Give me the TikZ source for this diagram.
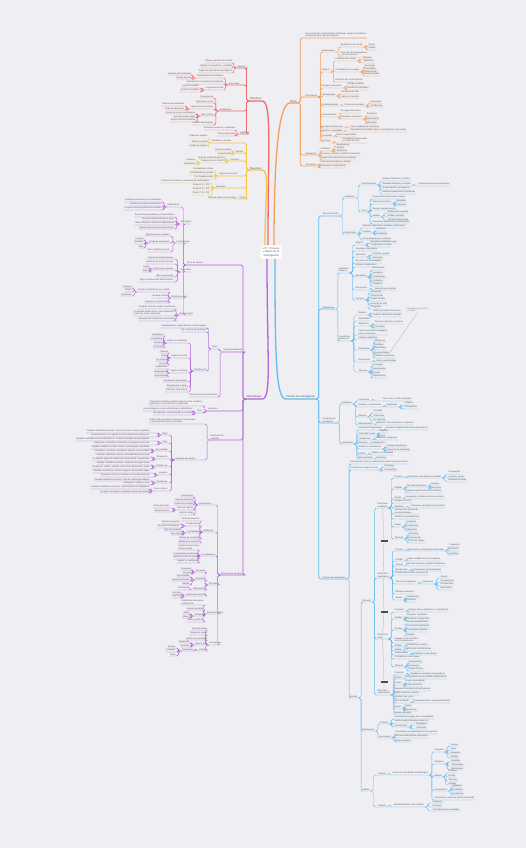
\documentclass[tikz,border=0pt]{standalone}
\usepackage{fontspec}
\setmainfont{Liberation Sans}
\usetikzlibrary{calc}

\definecolor{bgcol}{HTML}{EEEEF3}
\definecolor{redbr}{HTML}{F06A6A}
\definecolor{orgbr}{HTML}{F5A05A}
\definecolor{yelbr}{HTML}{F4C444}
\definecolor{purbr}{HTML}{B463D8}
\definecolor{blubr}{HTML}{62BDF2}
\definecolor{txt}{HTML}{5A5A5A}

% child to the right / to the left of its parent, underlined
\newcommand{\kidR}[5][]{%
  \node[kid,anchor=south west] (#2) at (#4) {#5};
  \draw[edge,#1] (#3.south east) -- ++(3,0) |- (#2.south west) -- (#2.south east);}
\newcommand{\kidL}[5][]{%
  \node[kid,anchor=south east] (#2) at (#4) {#5};
  \draw[edge,#1] (#3.south west) -- ++(-3,0) |- (#2.south east) -- (#2.south west);}
% one study variable with its two definitions
\newcommand{\varrow}[5]{%
  \kidL{#1}{p42}{168,#2}{#3}
  \kidL{#1a}{#1}{150,#2-2}{#4}
  \kidL{#1b}{#1}{150,#2+2}{#5}}

\begin{document}
\begin{tikzpicture}[
  x=1pt, y=-1pt,
  kid/.style     = {font=\fontsize{2.2}{2.7}\selectfont, text=txt,
                    inner xsep=0.4pt, inner ysep=0.5pt, align=left},
  mainlab/.style = {kid, font=\fontsize{2.7}{3.2}\selectfont},
  edge/.style    = {draw=br, line width=0.45pt, rounded corners=1.8pt},
  lvl/.style     = {line width=0.8pt},
  trunk/.style   = {draw=br, line width=1.3pt},
  hub/.style     = {fill=white, rounded corners=2pt, text=txt, align=center,
                    font=\fontsize{2.7}{3.4}\selectfont, inner sep=2pt},
  rel/.style     = {draw=black!30, line width=0.3pt},
  tagbox/.style  = {fill=black!70, minimum width=7pt, minimum height=2.6pt, inner sep=0pt},
  note/.style    = {kid, text=black!45},
]
\fill[bgcol] (0,0) rectangle (526,848);
\useasboundingbox (0,0) rectangle (526,848);

\node[hub] (uti) at (271,252) {U.T.I. Proceso\\y diseño de la\\investigación};

% ---------------- Objetivos (red)
\colorlet{br}{redbr}
\node[mainlab,anchor=south east] (obj) at (262,101) {Objetivos};
\draw[trunk] ([xshift=-3pt]uti.north) .. controls +(0,-100) and +(10,0) .. (obj.south east) -- (obj.south west);

\kidL[lvl]{r1}{obj}{246,68}{Alcance}
\foreach \y/\t in {63/Objetivo general del estudio,68/Objetivos específicos y medibles,73/Preguntas guía de la investigación}
  {\kidL{r1-\y}{r1}{233,\y}{\t}}
\kidL[lvl]{r2}{obj}{240,85}{Enunciado}
\kidL{r21}{r2}{224,78}{Antecedentes del problema}
\foreach \y/\t in {75/Revisión de la literatura,79/Estado del arte}{\kidL{r21-\y}{r21}{192,\y}{\t}}
\kidL{r22}{r2}{224,84}{Delimitación conceptual del problema}
\kidL{r23}{r2}{224,90}{Pregunta principal}
\foreach \y/\t in {88/¿Qué se estudia?,92/¿Cómo se estudia?}{\kidL{r23-\y}{r23}{200,\y}{\t}}
\kidL[lvl]{r3}{obj}{232,111}{Justificación}
\foreach \y/\t in {98/Conveniencia,103/Relevancia social,109/Implicaciones prácticas,116/Valor teórico,125/Utilidad metodológica}
  {\kidL{r3-\y}{r3}{214,\y}{\t}}
\foreach \y/\t in {106/Solución de problemas,110/Toma de decisiones}{\kidL{r3b-\y}{r3-109}{185,\y}{\t}}
\foreach \y/\t in {114/Llenar vacíos de conocimiento,118/Generar nuevas ideas,122/Apoyar teorías existentes}{\kidL{r3c-\y}{r3-116}{196,\y}{\t}}
\kidL[lvl]{r4}{obj}{250,134}{Viabilidad}
\foreach \y/\t in {130/Recursos humanos y materiales,136/Tiempo disponible}{\kidL{r4-\y}{r4}{236,\y}{\t}}

% ---------------- Muestreo (yellow)
\colorlet{br}{yelbr}
\node[mainlab,anchor=south east] (mue) at (262,170) {Muestreo};
\draw[trunk] ([xshift=-6pt]uti.north) .. controls +(0,-50) and +(8,0) .. (mue.south east) -- (mue.south west);

\kidL[lvl]{y1}{mue}{232,143}{Población y muestra}
\foreach \y/\t in {138/Población objetivo,143/Marco muestral,147/Unidad de análisis}{\kidL{y1-\y}{y1}{208,\y}{\t}}
\kidL[lvl]{y2}{mue}{244,153}{Tamaño}
\foreach \y/\t in {151/Cálculo muestral,155/Fórmula finita}{\kidL{y2-\y}{y2}{232,\y}{\t}}
\kidL[lvl]{y3}{mue}{240,161}{Precisión}
\foreach \y/\t in {159/Nivel de confianza del 95 \%,163/Margen de error del 5 \%}{\kidL{y3-\y}{y3}{226,\y}{\t}}
\foreach \y/\t in {161/Aleatoria,165/Sistemática}{\kidL{y3b-\y}{y3-163}{196,\y}{\t}}
\kidL[lvl]{y4}{mue}{238,176}{Tipos de muestreo}
\foreach \y/\t in {171/Probabilístico simple,175/Estratificado por grupos,179/Por conglomerados}{\kidL{y4-\y}{y4}{214,\y}{\t}}
\kidL[lvl]{y5}{mue}{226,188}{Selección}
\foreach \y/\t in {183/Criterios de inclusión y exclusión de participantes,187/Grupo A (n = 25),191/Grupo B (n = 25),195/Grupo C (n = 25)}
  {\kidL{y5-\y}{y5}{210,\y}{\t}}
\kidL[lvl]{y6}{mue}{246,199}{Datos}
\kidL{y6-1}{y6}{236,199}{Tabla de datos recolectados}

% ---------------- Ética (orange)
\colorlet{br}{orgbr}
\node[mainlab,anchor=south west] (eti) at (290,103) {Ética};
\draw[trunk] ([xshift=3pt]uti.north) .. controls +(0,-100) and +(-10,0) .. (eti.south west) -- (eti.south east);

\kidR[lvl]{o1}{eti}{305,38}{Documento de consentimiento informado, riesgos y beneficios\\del estudio para cada participante}
\kidR[lvl]{o2}{eti}{305,97}{Información}
\kidR{o21}{o2}{321,52}{Antecedentes}
\kidR{o21a}{o21}{340,47}{Aprobación del comité}
\foreach \y/\t in {46/Fecha,50/Código}{\kidR{o21a-\y}{o21a}{368,\y}{\t}}
\kidR{o21b}{o21}{340,57}{Datos de los investigadores\\y de la institución}
\kidR{o22}{o2}{321,72}{Objetivo}
\kidR{o22a}{o22}{335,61}{Propósito del estudio}
\foreach \y/\t in {59/General,63/Específico}{\kidR{o22a-\y}{o22a}{363,\y}{\t}}
\kidR{o22b}{o22}{335,72}{Procedimientos a seguir}
\foreach \y/\t in {67/Encuestas,70/Entrevistas,73/Observación,76/Grupos focales}{\kidR{o22b-\y}{o22b}{364,\y}{\t}}
\kidR{o22c}{o22}{335,82}{Duración de la participación}
\kidR{o23}{o2}{321,88}{Riesgos y beneficios}
\foreach \y/\t in {86/Riesgos posibles,90/Beneficios esperados}{\kidR{o23-\y}{o23}{347,\y}{\t}}
\kidR{o24}{o2}{321,96}{Voluntariedad}
\foreach \y/\t in {94/Participación libre,98/Retiro sin sanción}{\kidR{o24-\y}{o24}{341,\y}{\t}}
\kidR{o25}{o2}{321,106}{Confidencialidad}
\kidR{o25a}{o25}{344,106}{Protección de datos}
\foreach \y/\t in {103/Anonimato,107/Codificación}{\kidR{o25a-\y}{o25a}{370,\y}{\t}}
\kidR{o26}{o2}{321,117}{Compensación}
\kidR{o26a}{o26}{340,113}{Sin pago económico}
\kidR{o26b}{o26}{340,119}{Reembolso de gastos}
\foreach \y/\t in {116/Transporte,120/Alimentación,124/Materiales}{\kidR{o26b-\y}{o26b}{366,\y}{\t}}
\kidR{o27}{o2}{321,128}{Uso de la información}
\kidR{o27a}{o27}{350,128}{Fines académicos exclusivos}
\kidR{o28}{o2}{321,132}{Derecho a resultados}
\kidR{o28a}{o28}{350,132}{Resultados disponibles para los participantes del estudio}
\kidR{o29}{o2}{321,137}{Privacidad}
\kidR{o29a}{o29}{336,137}{Datos resguardados}
\kidR{o210}{o2}{321,142}{Contacto}
\kidR{o210a}{o210}{342,143}{Investigador responsable\\y comité de ética}
\kidR[lvl]{o3}{eti}{305,155}{Evaluación}
\kidR{o31}{o3}{320,151}{Principios}
\foreach \y/\t in {146/Beneficencia,149/Justicia,152/Autonomía}{\kidR{o31-\y}{o31}{336,\y}{\t}}
\kidR{o32}{o3}{320,156}{Revisión por pares y comité institucional}
\kidR{o33}{o3}{320,160}{Seguimiento del protocolo aprobado}
\kidR[lvl]{o4}{eti}{305,166}{Conclusión}
\kidR{o41}{o4}{320,164}{Firma del participante y testigo}
\kidR{o42}{o4}{320,168}{Copia para el participante}

% ---------------- Metodología (purple)
\colorlet{br}{purbr}
\node[mainlab,anchor=south east] (met) at (262,399) {Metodología};
\draw[trunk] ([xshift=-4pt]uti.south) .. controls +(0,100) and +(10,0) .. (met.south east) -- (met.south west);

\kidL[lvl]{p1}{met}{204,265}{Tipos de alcance}
\kidL{p11}{p1}{180,207}{Exploratorio}
\foreach \y/\t in {202/Investiga problemas poco estudiados,206/Identifica conceptos promisorios,210/Prepara el terreno para otros estudios}
  {\kidL{p11-\y}{p11}{162,\y}{\t}}
\kidL{p12}{p1}{192,224}{Descriptivo}
\foreach \y/\t in {217/Especifica propiedades y características,221/Describe tendencias de un grupo,225/Mide conceptos de forma independiente,229/Muestra dimensiones del fenómeno}
  {\kidL{p12-\y}{p12}{175,\y}{\t}}
\kidL{p13}{p1}{190,243}{Correlacional}
\foreach \y/\t in {236/Relación entre variables,243/Grado de asociación,252/Valor predictivo parcial}{\kidL{p13-\y}{p13}{170,\y}{\t}}
\foreach \y/\t in {240/Positiva,244/Negativa,248/Nula}{\kidL{p13b-\y}{p13-243}{144,\y}{\t}}
\kidL{p14}{p1}{192,272}{Explicativo}
\foreach \y/\t in {259/Causas de los fenómenos,264/Condiciones en que ocurren,270/Relaciones causales,277/Más estructurado,282/Mayor comprensión del fenómeno}
  {\kidL{p14-\y}{p14}{174,\y}{\t}}
\foreach \y/\t in {268/Causa,272/Efecto}{\kidL{p14b-\y}{p14-270}{150,\y}{\t}}
\kidL{p15}{p1}{188,298}{Estudio de caso}
\foreach \y/\t in {292/Análisis profundo de una unidad,298/Enfoque holístico,303/Intrínseco o instrumental}{\kidL{p15-\y}{p15}{170,\y}{\t}}
\foreach \y/\t in {288/Persona,292/Grupo,296/Institución}{\kidL{p15b-\y}{p15-292}{132,\y}{\t}}
\kidL{p16}{p1}{194,315}{Alcance mixto}
\foreach \y/\t in {309/Combina alcances según el problema,316/Un estudio puede iniciar como exploratorio\\y terminar como explicativo,321/Depende del estado del conocimiento}
  {\kidL{p16-\y}{p16}{176,\y}{\t}}

\kidL[lvl]{p2}{met}{243,352}{Operacionalización}
\kidL{p21}{p2}{218,349}{Tipos}
\kidL{p21-1}{p21}{207,328}{Independientes, dependientes e intervinientes}
\kidL{p21-2}{p21}{207,332}{De control y de confusión}
\kidL{p213}{p21}{207,371}{Clasificación}
\kidL{p213-a}{p213}{188,343}{Según su naturaleza}
\foreach \y/\t in {336/Cualitativas,340/Cuantitativas,344/Discretas,348/Continuas}{\kidL{p213a-\y}{p213-a}{164,\y}{\t}}
\kidL{p213-b}{p213}{188,358}{Según su escala}
\foreach \y/\t in {353/Nominal,357/Ordinal,361/De intervalo,365/De razón}{\kidL{p213b-\y}{p213-b}{169,\y}{\t}}
\kidL{p213-c}{p213}{188,373}{Según su función}
\foreach \y/\t in {369/Explicativas,373/Moderadoras,377/Intervinientes}{\kidL{p213c-\y}{p213-c}{168,\y}{\t}}
\foreach \y/\t in {382/Indicadores observables,387/Dimensiones e ítems,392/Definición operacional}{\kidL{p213-\y}{p213}{188,\y}{\t}}
\kidL{p22}{p2}{218,397}{Matriz de operacionalización}

\kidL[lvl]{p3}{met}{218,411}{Hipótesis}
\kidL{p31}{p3}{203,406}{Proposición tentativa sobre la relación entre variables,\\apoyada en conocimientos organizados}
\kidL{p32}{p3}{203,413}{Tipos}
\kidL{p32-1}{p32}{193,411}{De investigación, nulas, alternativas y estadísticas}
\kidL{p32-2}{p32}{193,415}{Descriptivas, correlacionales y causales}

\kidL[lvl]{p4}{met}{224,440}{Definición de\\variables}
\kidL{p41}{p4}{196,424}{Definir cada variable en términos conceptuales\\y operacionales para su medición}
\kidL{p42}{p4}{196,460}{Variables del estudio}
\varrow{v1}{435}{Edad}{Variable cuantitativa discreta: tiempo de vida en años cumplidos}{Escala de razón; se registra en la encuesta inicial (anexo 1)}
\varrow{v2}{443}{Sexo}{Variable cualitativa nominal dicotómica: condición biológica del participante}{Categorías: masculino y femenino; se registra en la ficha}
\varrow{v3}{451}{Escolaridad}{Variable cualitativa ordinal: último nivel educativo aprobado}{Categorías: primaria, secundaria, técnica y universitaria}
\varrow{v4}{459}{Ocupación}{Variable cualitativa nominal: actividad laboral principal}{Se registra según la clasificación nacional de ocupaciones}
\varrow{v5}{467}{Estado civil}{Variable cualitativa nominal: situación conyugal actual}{Categorías: soltero, casado, unión libre, divorciado y viudo}
\varrow{v6}{475}{Ingresos}{Variable cuantitativa continua: ingreso mensual del hogar}{Escala de razón; se expresa en moneda nacional}
\varrow{v7}{483}{Residencia}{Variable cualitativa nominal: zona de residencia habitual}{Categorías: urbana y rural}
\varrow{v8}{491}{Peso corporal}{Variable cuantitativa continua: masa corporal en kilogramos}{Se mide con balanza calibrada al inicio del estudio}

\kidL[lvl]{p5}{met}{243,575}{Recolección de datos}
\kidL{p51}{p5}{212,505}{Instrumentos}
\foreach \y/\t in {497/Cuestionario,501/Guía de entrevista,505/Escala de actitudes,510/Ficha de registro,515/Lista de cotejo}{\kidL{p51-\y}{p51}{194,\y}{\t}}
\foreach \y/\t in {508/Datos generales,512/Observaciones}{\kidL{p51b-\y}{p51-510}{170,\y}{\t}}
\kidL{p52}{p5}{214,532}{Validación}
\foreach \y/\t in {521/Juicio de expertos,526/Prueba piloto,533/Confiabilidad,539/Validez de contenido,543/Validez de constructo}{\kidL{p52-\y}{p52}{200,\y}{\t}}
\foreach \y/\t in {524/Muestra pequeña,528/Ajustes al instrumento}{\kidL{p52b-\y}{p52-526}{180,\y}{\t}}
\foreach \y/\t in {531/Alfa de Cronbach,535/Test-retest}{\kidL{p52c-\y}{p52-533}{182,\y}{\t}}
\kidL{p53}{p5}{216,556}{Procedimiento}
\foreach \y/\t in {550/Solicitud de permisos\\institucionales,555/Consentimiento informado,559/Aplicación del instrumento,563/Registro y codificación}
  {\kidL{p53-\y}{p53}{200,\y}{\t}}
\kidL{p54}{p5}{218,585}{Técnicas}
\foreach \y/\t in {572/Encuesta,580/Entrevista,590/Observación,596/Análisis documental}{\kidL{p54-\y}{p54}{206,\y}{\t}}
\foreach \y/\t in {570/Presencial,574/En línea}{\kidL{p54a-\y}{p54-572}{192,\y}{\t}}
\foreach \y/\t in {577/Estructurada,581/Semiestructurada,585/Abierta}{\kidL{p54b-\y}{p54-580}{190,\y}{\t}}
\kidL{p54c}{p54-590}{190,590}{Participante}
\foreach \y/\t in {594/Archivos,598/Registros}{\kidL{p54d-\y}{p54-596}{182,\y}{\t}}
\kidL{p55}{p5}{224,614}{Análisis de datos}
\foreach \y/\t in {605/Estadística descriptiva\\e inferencial,610/Análisis temático,616/Software,622/Tablas y gráficos}{\kidL{p55-\y}{p55}{204,\y}{\t}}
\foreach \y/\t in {614/SPSS,618/Atlas.ti}{\kidL{p55b-\y}{p55-616}{190,\y}{\t}}
\kidL{p56}{p5}{222,645}{Cronograma}
\foreach \y/\t in {630/Fase de diseño,635/Trabajo de campo,640/Análisis de resultados,645/Informe final,651/Difusión}{\kidL{p56-\y}{p56}{208,\y}{\t}}
\foreach \y/\t in {643/Redacción,647/Revisión}{\kidL{p56b-\y}{p56-645}{190,\y}{\t}}
\kidL{p56c}{p56-651}{194,651}{Publicación}
\foreach \y/\t in {648/Artículo,652/Congreso,656/Tesis}{\kidL{p56d-\y}{p56c}{176,\y}{\t}}

% ---------------- Diseño de investigación (blue)
\colorlet{br}{blubr}
\node[mainlab,anchor=south west] (dis) at (286,399) {Diseño de investigación};
\draw[trunk] ([xshift=4pt]uti.south) .. controls +(0,100) and +(-10,0) .. (dis.south west) -- (dis.south east);

\kidR[lvl]{b1}{dis}{322,216}{Tipos de estudio}
\kidR{b11}{b1}{344,198}{Cualitativo}
\kidR{b111}{b11}{361,185}{Características}
\foreach \y/\t in {181/Enfoque inductivo y holístico,186/Realidad subjetiva y múltiple,190/Diseño flexible y emergente,194/Muestras pequeñas no aleatorias}
  {\kidR{b111-\y}{b111}{382,\y}{\t}}
\kidR{b111x}{b111-186}{418,186}{Perspectiva de los participantes}
\kidR{b112}{b11}{361,212}{Usos}
\foreach \y/\t in {199/Comprender fenómenos sociales,204/Explorar contextos,210/Generar nuevas teorías,217/Análisis,224/Interpretar significados y experiencias}
  {\kidR{b112-\y}{b112}{372,\y}{\t}}
\foreach \y/\t in {202/Naturales,206/Culturales}{\kidR{b112a-\y}{b112-204}{396,\y}{\t}}
\foreach \y/\t in {213/Análisis de contenido,217/Análisis narrativo,221/Teoría fundamentada}{\kidR{b112b-\y}{b112-217}{387,\y}{\t}}
\kidR{b12}{b1}{344,234}{Cuantitativo}
\foreach \y/\t in {228/Medición objetiva de variables y fenómenos,233/Pruebas,240/Generalización de resultados}{\kidR{b12-\y}{b12}{362,\y}{\t}}
\foreach \y/\t in {231/Hipótesis,235/Estadística}{\kidR{b12a-\y}{b12-233}{376,\y}{\t}}

\kidR[lvl]{b2}{dis}{322,309}{Referencias}
\kidR{b21}{b2}{338,273}{Cualitativo\\(clásico)}
\foreach \y/\t in {245/Objetivo,251/Paradigma naturalista,257/Aplicación,263/Rol activo del investigador,267/Análisis interpretativo,277/Resultados,290/Descripción,300/Técnicas}
  {\kidR{b21-\y}{b21}{355,\y}{\t}}
\foreach \y/\t in {243/Describir la realidad social,247/Comprender al sujeto}{\kidR{b21a-\y}{b21-245}{370,\y}{\t}}
\foreach \y/\t in {255/Ciencias sociales,259/Educación}{\kidR{b21b-\y}{b21-257}{372,\y}{\t}}
\foreach \y/\t in {270/Descriptivos,274/Narrativos,278/Contextuales,282/Profundos,286/Subjetivos}{\kidR{b21c-\y}{b21-277}{372,\y}{\t}}
\kidR{b21d}{b21-290}{374,290}{Datos ricos en detalle}
\foreach \y/\t in {293/Entrevistas,297/Observación,301/Grupos focales,305/Historias de vida,309/Etnografía}{\kidR{b21e-\y}{b21-300}{370,\y}{\t}}
\kidR{b22}{b2}{338,341}{Cuantitativo\\(moderno)}
\foreach \y/\t in {315/Objetivo,321/Objetividad,326/Aplicación,335/Papel neutral del investigador\\ante el fenómeno,339/Análisis estadístico,350/Resultados,362/Descripción,372/Técnicas}
  {\kidR{b22-\y}{b22}{358,\y}{\t}}
\foreach \y/\t in {313/Medir y predecir fenómenos,317/Explicar relaciones causales}{\kidR{b22a-\y}{b22-315}{373,\y}{\t}}
\foreach \y/\t in {324/Ciencias naturales y exactas,328/Economía}{\kidR{b22b-\y}{b22-326}{374,\y}{\t}}
\foreach \y/\t in {342/Numéricos,346/Medibles,350/Replicables,354/Generalizables,358/Objetivos y precisos}{\kidR{b22c-\y}{b22-350}{374,\y}{\t}}
\kidR{b22d}{b22-362}{376,362}{Datos cuantificables}
\foreach \y/\t in {366/Encuestas,370/Cuestionarios,374/Escalas,378/Experimentos}{\kidR{b22e-\y}{b22-372}{372,\y}{\t}}
\node[note,anchor=south west] (nota) at (406,313) {Paradigma positivista\\y empírico};
\draw[rel] (nota.south) -- (b22c-354.east);

\kidR[lvl]{b3}{dis}{322,423}{Comparación\\de diseños}
\kidR{b31}{b3}{341,404}{Cualitativo}
\foreach \y/\t in {401/Fenómeno,407/Análisis y conclusiones,417/Muestra,425/Razonamiento}{\kidR{b31-\y}{b31}{358,\y}{\t}}
\kidR{b31a}{b31-401}{382,401}{Visto como un todo integrado}
\kidR{b31b}{b31-407}{386,407}{Significado}
\foreach \y/\t in {405/Subjetivo,409/Interpretativo}{\kidR{b31c-\y}{b31b}{404,\y}{\t}}
\foreach \y/\t in {413/Pequeña,417/Intencional,421/No aleatoria}{\kidR{b31d-\y}{b31-417}{373,\y}{\t}}
\kidR{b31e}{b31-425}{376,425}{Inductivo: de lo particular a lo general}
\kidR{b32}{b3}{341,444}{Cuantitativo}
\foreach \y/\t in {430/Fenómeno fragmentado,435/Visión del mundo,440/Clasificación,444/Muestreo,449/Análisis y conclusiones,455/Criterio,459/Razonamiento}
  {\kidR{b32-\y}{b32}{358,\y}{\t}}
\kidR{b32a}{b32-430}{385,430}{Variables medibles de forma independiente}
\foreach \y/\t in {433/Objetiva,437/Única}{\kidR{b32b-\y}{b32-435}{379,\y}{\t}}
\kidR{b32c}{b32-440}{375,440}{Variables y categorías}
\kidR{b32d}{b32-444}{371,444}{Probabilístico}
\foreach \y/\t in {447/Pruebas estadísticas,451/Inferencia de resultados}{\kidR{b32e-\y}{b32-449}{386,\y}{\t}}
\kidR{b32f}{b32-455}{371,455}{Validez y confiabilidad}
\kidR{b32g}{b32-459}{376,459}{Deductivo}

\kidR[lvl]{b4}{dis}{322,579}{Fuentes de información}
\kidR{b41}{b4}{350,464}{Documentos, datos y publicaciones para la revisión teórica}
\kidR{b42}{b4}{350,470}{Clasificación según su nivel}
\foreach \y/\t in {467/Primarias,471/Secundarias}{\kidR{b42-\y}{b42}{384,\y}{\t}}
\kidR{b43}{b4}{350,698}{Diseño}
\kidR{b431}{b43}{362,602}{Métodos}

\kidR{s1}{b431}{377,508}{Estructura\\cualitativa}
\foreach \y/\t in {478/Proceso,489/Utilidad,499/Diseño,503/Enfoque holístico,508/Variables,514/Técnicas de recolección\\no estructuradas,519/Muestra no probabilística,527/Etapas,539/Técnicas}
  {\kidR{s1-\y}{s1}{394,\y}{\t}}
\kidR{s1a}{s1-478}{408,478}{Identificar el fenómeno a estudiar}
\foreach \y/\t in {474/Perspectiva,478/Contexto social,482/Experiencia vivida}{\kidR{s1b-\y}{s1a}{448,\y}{\t}}
\kidR{s1c}{s1-489}{406,487}{Describir fenómenos}
\foreach \y/\t in {485/Sociales,489/Educativos}{\kidR{s1d-\y}{s1c}{430,\y}{\t}}
\kidR{s1e}{s1-489}{406,493}{Explorar significados de los actores}
\kidR{s1f}{s1-499}{405,499}{Emergente y flexible durante el estudio}
\kidR{s1g}{s1-508}{410,508}{Categorías emergentes del análisis}
\foreach \y/\t in {523/Inmersión,527/Codificación,531/Saturación}{\kidR{s1h-\y}{s1-527}{406,\y}{\t}}
\foreach \y/\t in {535/Entrevista,539/Observación,543/Diario de campo}{\kidR{s1i-\y}{s1-539}{408,\y}{\t}}

\kidR{s2}{b431}{377,578}{Estructura\\cuantitativa}
\foreach \y/\t in {551/Proceso,561/Utilidad,566/Alcance,571/Recolección,575/Diseño estructurado y secuencial,584/Tipo de investigación,594/Enfoque deductivo,600/Etapas}
  {\kidR{s2-\y}{s2}{395,\y}{\t}}
\kidR{s2a}{s2-551}{408,551}{Desarrollar un fenómeno observable}
\foreach \y/\t in {547/Preguntas,551/Hipótesis,555/Variables}{\kidR{s2b-\y}{s2a}{449,\y}{\t}}
\kidR{s2c}{s2-561}{407,561}{Medir variables de forma objetiva}
\kidR{s2d}{s2-566}{406,566}{Describir, explicar y predecir fenómenos}
\kidR{s2e}{s2-571}{412,571}{Instrumentos estandarizados}
\kidR{s2f}{s2-584}{422,584}{Explicativa}
\foreach \y/\t in {578/Causal,582/Correlacional,586/Comparativa,590/Descriptiva}{\kidR{s2g-\y}{s2f}{440,\y}{\t}}
\foreach \y/\t in {598/Planificación,602/Ejecución}{\kidR{s2h-\y}{s2-600}{406,\y}{\t}}

\kidR{s3}{b431}{377,639}{Estructura\\mixta}
\foreach \y/\t in {612/Propósito,619/Utilidad,630/Diseños,643/Integración de los datos\\en la interpretación,647/Análisis,651/Validez,655/Temporalidad,659/Prioridad de los enfoques,667/Técnicas}
  {\kidR{s3-\y}{s3}{394,\y}{\t}}
\kidR{s3a}{s3-612}{408,612}{Integrar datos cualitativos y cuantitativos}
\foreach \y/\t in {617/Triangular resultados,621/Ampliar la comprensión}{\kidR{s3b-\y}{s3-619}{406,\y}{\t}}
\foreach \y/\t in {624/Secuencial explicativo,628/Secuencial exploratorio,632/Convergente paralelo,636/Anidado}{\kidR{s3c-\y}{s3-630}{406,\y}{\t}}
\kidR{s3d}{s3-647}{406,647}{Estadístico y temático}
\kidR{s3e}{s3-651}{404,651}{Legitimación de inferencias}
\kidR{s3f}{s3-655}{412,655}{Simultánea o secuencial}
\foreach \y/\t in {663/Cuestionarios,667/Entrevistas,671/Grupos focales}{\kidR{s3g-\y}{s3-667}{408,\y}{\t}}

\kidR{s4}{b431}{377,695}{Estructura\\experimental}
\foreach \y/\t in {675/Propósito,679/Control,685/Grupos,691/Asignación aleatoria de participantes,695/Validez interna y externa,699/Medición pre y post,703/Tipo de diseño,709/Etapas,714/Análisis de datos}
  {\kidR{s4-\y}{s4}{394,\y}{\t}}
\kidR{s4a}{s4-675}{410,675}{Establecer relaciones causa-efecto}
\kidR{s4b}{s4-679}{405,679}{Manipulación de la variable independiente}
\foreach \y/\t in {683/Grupo experimental,687/Grupo de control}{\kidR{s4c-\y}{s4-685}{405,\y}{\t}}
\kidR{s4d}{s4-703}{413,703}{Preexperimental o cuasiexperimental}
\foreach \y/\t in {707/Pretest,711/Intervención}{\kidR{s4e-\y}{s4-709}{404,\y}{\t}}

% relationship between the four structures
\node[tagbox] (tg1) at (384,541) {};
\node[tagbox] (tg2) at (384,612) {};
\node[tagbox] (tg3) at (384,682) {};
\draw[rel] (s1.south) -- (tg1) -- (s2.north);
\draw[rel] (s2.south) -- (tg2) -- (s3.north);
\draw[rel] (s3.south) -- (tg3) -- (s4.north);

\kidR{b432}{b43}{362,731}{Elaboración}
\kidR{b432a}{b432}{379,724}{Primaria}
\foreach \y/\t in {719/Información recogida por el investigador,723/Fuente original de datos empíricos,727/Instrumentos}{\kidR{b432a-\y}{b432a}{394,\y}{\t}}
\foreach \y/\t in {725/Encuesta,729/Entrevista}{\kidR{b432c-\y}{b432a-727}{416,\y}{\t}}
\kidR{b432b}{b432}{379,738}{Secundaria}
\foreach \y/\t in {734/Información ya publicada por otros autores,738/Revisión bibliográfica sistemática,742/Bases de datos}{\kidR{b432b-\y}{b432b}{395,\y}{\t}}

\kidR{b433}{b43}{362,791}{Validez}
\kidR{b433a}{b433}{378,775}{Interna}
\kidR{b433a1}{b433a}{392,775}{Coherencia del diseño metodológico}
\foreach \y/\t in {752/Pregunta,764/Objetivos,777/Método,791/Instrumentos,800/Consistencia entre las partes del estudio}
  {\kidR{b433a1-\y}{b433a1}{434,\y}{\t}}
\foreach \y/\t in {746/Precisa,750/Clara,754/Relevante,758/Factible}{\kidR{q1-\y}{b433a1-752}{450,\y}{\t}}
\foreach \y/\t in {762/Medibles,766/Alcanzables,770/Delimitados}{\kidR{q2-\y}{b433a1-764}{451,\y}{\t}}
\foreach \y/\t in {773/Enfoque,777/Diseño,781/Técnicas,785/Análisis}{\kidR{q3-\y}{b433a1-777}{448,\y}{\t}}
\foreach \y/\t in {787/Validados,791/Confiables,795/Pertinentes}{\kidR{q4-\y}{b433a1-791}{452,\y}{\t}}
\kidR{b433b}{b433}{378,807}{Externa}
\kidR{b433b1}{b433b}{393,807}{Aplicabilidad fuera del contexto}
\foreach \y/\t in {803/Población,807/Contexto,811/Transferencia de resultados}{\kidR{q5-\y}{b433b1}{432,\y}{\t}}

\end{tikzpicture}
\end{document}
